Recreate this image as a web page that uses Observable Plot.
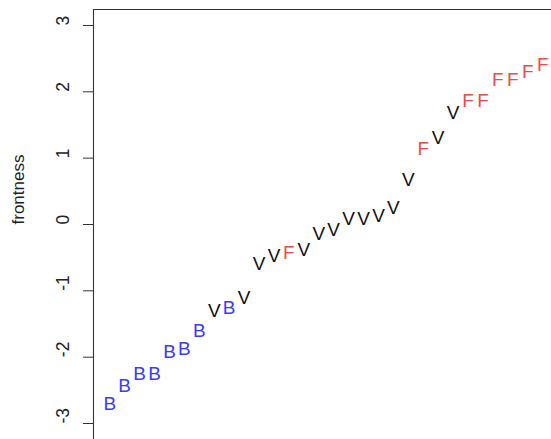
<!DOCTYPE html>
<html>
<head>
<meta charset="utf-8">
<script src="https://cdn.jsdelivr.net/npm/d3@7"></script>
<script src="https://cdn.jsdelivr.net/npm/@observablehq/plot@0.6"></script>
<style>
  html, body { margin: 0; padding: 0; background: #fff; }
  #chart svg { display: block; }
</style>
</head>
<body>
<div id="chart"></div>
<script>
// Sorted frontness values, one label per item
const labels = ["B","B","B","B","B","B","B","V","B","V","V","V","F","V","V","V","V","V","V","V","V","F","V","V","F","F","F","F","F","F"];
const frontness = [-2.695,-2.418,-2.243,-2.243,-1.913,-1.860,-1.594,-1.292,-1.250,-1.096,-0.584,-0.463,-0.422,-0.372,-0.128,-0.078,0.098,0.098,0.136,0.254,0.681,1.157,1.312,1.700,1.875,1.875,2.190,2.190,2.318,2.418];
const yTicks = [-3, -2, -1, 0, 1, 2, 3];
const yTickLabels = ["-3", "-2", "-1", "0", "1", "2", "3"];
const yLabel = "frontness";
const labelColors = {B: "#3a3aff", V: "#111111", F: "#f24848"};

const data = labels.map((l, i) => ({index: i + 1, y: frontness[i], label: l}));
const xDomain = [-0.09, 30.59];
const yDomain = [-3.241, 3.241];

const chart = Plot.plot({
  width: 551,
  height: 439,
  marginLeft: 93,
  marginTop: 9,
  marginRight: 0,
  marginBottom: 0,
  style: {fontFamily: "'Liberation Sans', Arial, sans-serif", background: "#fff"},
  x: {domain: xDomain, axis: null},
  y: {domain: yDomain, axis: null},
  marks: [
    Plot.ruleX([xDomain[0]], {stroke: "#333", strokeWidth: 1.1}),
    Plot.ruleY([yDomain[1]], {stroke: "#333", strokeWidth: 1.1}),
    Plot.axisY({ticks: yTicks, tickSize: 10, tickFormat: () => "", label: null, stroke: "#333"}),
    Plot.text(yTicks, {y: d => d, text: (d, i) => yTickLabels[i], frameAnchor: "left", dx: -30, rotate: -90, fontSize: 17.5, fill: "#222"}),
    Plot.text([yLabel], {frameAnchor: "left", dx: -75, rotate: -90, fontSize: 17, fill: "#222", text: d => d}),
    Plot.text(data, {x: "index", y: "y", text: "label", fill: d => labelColors[d.label], fontSize: 19, dy: 0.7})
  ]
});
document.getElementById("chart").append(chart);
</script>
</body>
</html>
